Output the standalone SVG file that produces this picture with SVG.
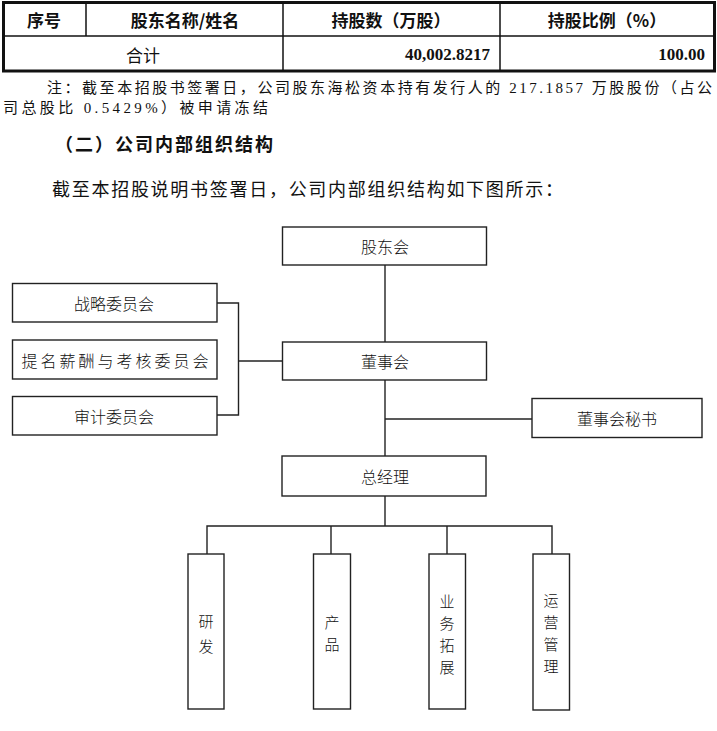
<svg xmlns="http://www.w3.org/2000/svg" width="717" height="731" viewBox="0 0 717 731">
<style>
text{fill:#111;dominant-baseline:central}
.hd{font-family:"Noto Sans CJK SC","Liberation Sans",sans-serif;font-size:17px;font-weight:bold;text-anchor:middle}
.cell{font-family:"Noto Sans CJK SC","Liberation Sans",sans-serif;font-size:17px;text-anchor:middle}
.num{font-family:"Liberation Serif","Noto Sans CJK SC",serif;font-size:17px;font-weight:bold;text-anchor:end}
.body{font-family:"Liberation Serif","Noto Sans CJK SC",serif;font-size:15px}
.p{font-family:"Liberation Serif","Noto Sans CJK SC",serif;font-size:18px}
.h2{font-family:"Noto Sans CJK SC","Liberation Sans",sans-serif;font-size:18px;font-weight:bold}
.lbl{font-family:"Noto Sans CJK SC",sans-serif;font-size:16px;text-anchor:middle;font-weight:300}
.vl{font-size:15px}
.box rect{fill:#fff;stroke:#222;stroke-width:1.4}
.tb{fill:none;stroke:#111}
#connectors path{fill:none;stroke:#222;stroke-width:1.4}
</style>
<rect width="717" height="731" fill="#fff"/>
<!-- table -->
<g id="table">
<rect class="tb" x="3.5" y="2.5" width="711" height="68.5" stroke-width="3"/>
<line class="tb" x1="3" y1="36" x2="714" y2="36" stroke-width="1.5"/>
<line class="tb" x1="86" y1="3" x2="86" y2="36" stroke-width="1.5"/>
<line class="tb" x1="283" y1="3" x2="283" y2="71" stroke-width="1.5"/>
<line class="tb" x1="500" y1="3" x2="500" y2="71" stroke-width="1.5"/>
<text class="hd" x="44" y="19">序号</text>
<text class="hd" x="185" y="19">股东名称/姓名</text>
<text class="hd" x="391" y="19">持股数（万股）</text>
<text class="hd" x="607" y="19">持股比例（%）</text>
<text class="cell" x="143" y="54">合计</text>
<text class="num" x="490" y="54">40,002.8217</text>
<text class="num" x="705" y="54">100.00</text>
</g>
<text class="body" x="47" y="88" textLength="665" lengthAdjust="spacing">注：截至本招股书签署日，公司股东海松资本持有发行人的 217.1857 万股股份（占公</text>
<text class="body" x="3" y="108" textLength="265" lengthAdjust="spacing">司总股比 0.5429%）被申请冻结</text>
<text class="h2" x="55" y="143" textLength="218" lengthAdjust="spacing">（二）公司内部组织结构</text>
<text class="p" x="52" y="190" textLength="511" lengthAdjust="spacing">截至本招股说明书签署日，公司内部组织结构如下图所示：</text>
<!-- connectors -->
<g id="connectors">
<path d="M385 265V342"/>
<path d="M217 303H238.5V415H217"/>
<path d="M238.5 361H283"/>
<path d="M385 380V456"/>
<path d="M385 419H532"/>
<path d="M385 496V526"/>
<path d="M207 554V526H552V554"/>
<path d="M331 526V554"/>
<path d="M447 526V554"/>
</g>
<!-- nodes -->
<g id="n-gdh" class="box"><rect x="282.5" y="227" width="204" height="38"/><text class="lbl" x="385" y="246">股东会</text></g>
<g id="n-zl" class="box"><rect x="12.5" y="283.5" width="204.5" height="38.5"/><text class="lbl" x="114" y="302.5">战略委员会</text></g>
<g id="n-tm" class="box"><rect x="12.5" y="340" width="204.5" height="39"/><text class="lbl" x="115" y="360" textLength="187" lengthAdjust="spacing">提名薪酬与考核委员会</text></g>
<g id="n-sj" class="box"><rect x="12.5" y="396.5" width="204.5" height="38.5"/><text class="lbl" x="114" y="415.5">审计委员会</text></g>
<g id="n-dsh" class="box"><rect x="282.5" y="342" width="204" height="38"/><text class="lbl" x="385" y="361">董事会</text></g>
<g id="n-ms" class="box"><rect x="532" y="398.5" width="170" height="39"/><text class="lbl" x="617" y="418">董事会秘书</text></g>
<g id="n-zjl" class="box"><rect x="282" y="456" width="204" height="40"/><text class="lbl" x="385" y="476">总经理</text></g>
<g id="n-yf" class="box"><rect x="188" y="554" width="36" height="155"/><text class="lbl vl" x="206" y="620">研</text><text class="lbl vl" x="206" y="645">发</text></g>
<g id="n-cp" class="box"><rect x="313.5" y="554" width="37" height="155"/><text class="lbl vl" x="332" y="621">产</text><text class="lbl vl" x="332" y="643">品</text></g>
<g id="n-yw" class="box"><rect x="429" y="554" width="36.5" height="155"/><text class="lbl vl" x="447" y="600">业</text><text class="lbl vl" x="447" y="622">务</text><text class="lbl vl" x="447" y="644">拓</text><text class="lbl vl" x="447" y="666">展</text></g>
<g id="n-yy" class="box"><rect x="533" y="554" width="36.5" height="156"/><text class="lbl vl" x="551" y="599">运</text><text class="lbl vl" x="551" y="621">营</text><text class="lbl vl" x="551" y="643">管</text><text class="lbl vl" x="551" y="665">理</text></g>
</svg>
